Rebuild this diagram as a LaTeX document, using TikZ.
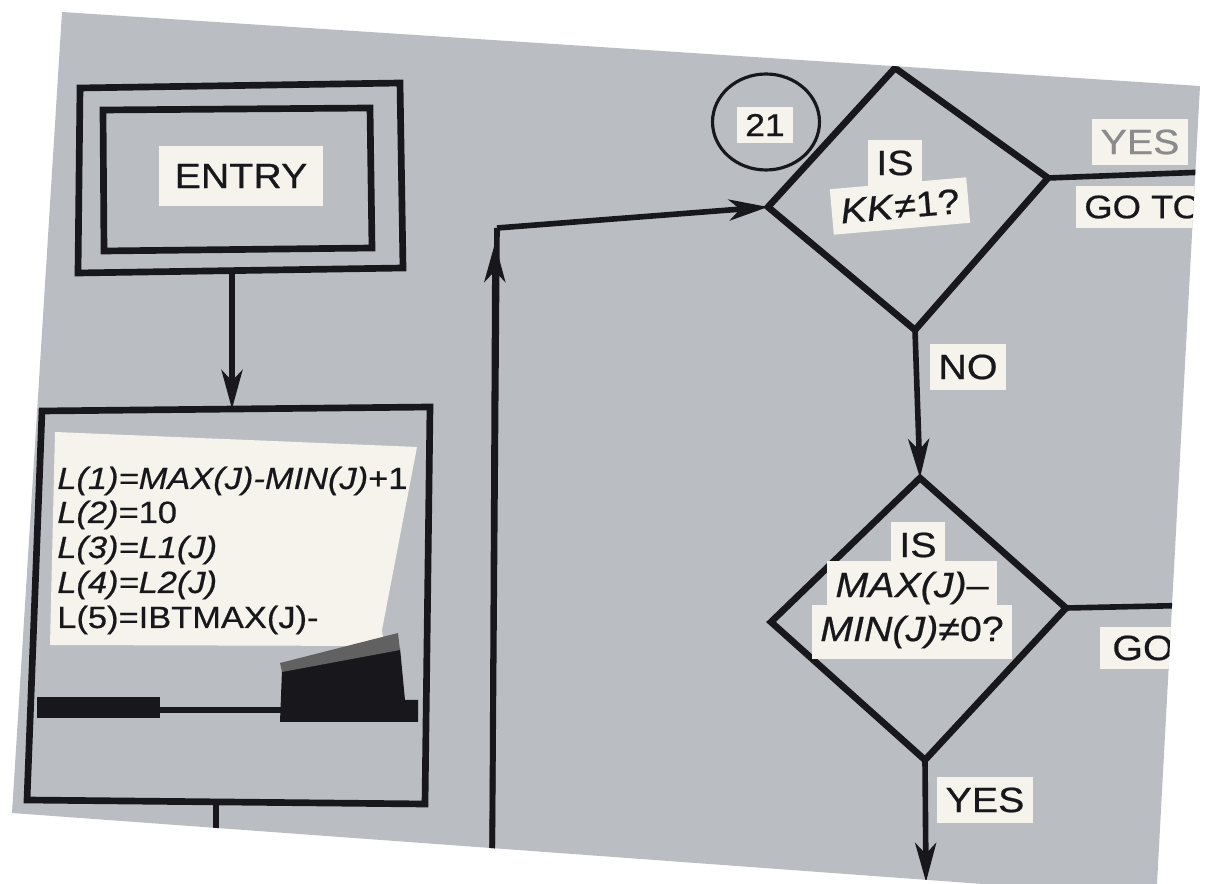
\documentclass[tikz,border=0pt]{standalone}
\usepackage{fontspec}
\setmainfont{Liberation Sans}[FakeStretch=1.12,FakeBold=0.6]
\usetikzlibrary{arrows.meta,shapes.geometric}
\definecolor{paper}{RGB}{186,190,195}
\definecolor{ink}{RGB}{24,24,28}
\definecolor{tag}{RGB}{245,243,235}
\begin{document}
\begin{tikzpicture}[x=0.02cm,y=-0.02cm,
  ln/.style={draw=ink,line width=3.8pt,line join=miter},
  conn/.style={draw=ink,line width=3.2pt},
  tip/.style={-{Stealth[length=0.78cm,width=0.42cm,inset=0.22cm]}},
  tagbox/.style={fill=tag,text=ink,inner xsep=5pt,inner ysep=6pt,font=\fontsize{20}{22}\selectfont},
  proctext/.style={anchor=base west,inner sep=0pt,text=ink,font=\fontsize{17.5}{19}\selectfont}]
\useasboundingbox (0,0) rectangle (1207,884);
\fill[white] (0,0) rectangle (1207,884);
\coordinate (p1) at (62,12);
\coordinate (p2) at (1200,86);
\coordinate (p3) at (1157,884);
\coordinate (p4) at (983,884);
\coordinate (p5) at (12,813);
\fill[paper] (p1)--(p2)--(p3)--(p4)--(p5)--cycle;
\begin{scope}
\clip (p1)--(p2)--(p3)--(p4)--(p5)--cycle;
% entry box
\draw[ln] (80,88) -- (400,83) -- (403,268) -- (78,273) -- cycle;
\draw[ln] (103,110) -- (370,108) -- (372,248) -- (104,251) -- cycle;
\node[tagbox,inner xsep=9pt,inner ysep=10pt] (entry) at (241,176) {ENTRY};
\coordinate (entryB) at (232,271);
\coordinate (procT) at (232,409);
\draw[conn,tip] (entryB) -- (procT);
% process box
\draw[ln] (42,411) -- (430,407) -- (425,804) -- (27,800) -- cycle;
\fill[tag] (55,432) -- (417,447) -- (382,630) -- (384,646) -- (50,645) -- cycle;
\node[proctext] (pl1) at (57,489) {\textit{L(1)=MAX(J)-MIN(J)}+1};
\node[proctext] (pl2) at (57,523) {\textit{L(2)}=10};
\node[proctext] (pl3) at (57,558) {\textit{L(3)=L1(J)}};
\node[proctext] (pl4) at (57,593) {\textit{L(4)=L2(J)}};
\node[proctext] (pl5) at (57,628) {L(5)=IBTMAX(J)-};
\fill[ink] (37,697) rectangle (160,718);
\draw[ink,line width=3.2pt] (160,710) -- (283,710);
\fill[ink] (282,670) -- (400,648) -- (405,700) -- (418,700) -- (418,722) -- (280,722) -- cycle;
\fill[black!62] (280,663) -- (398,633) -- (400,650) -- (282,672) -- cycle;
\coordinate (procB) at (216,804);
\coordinate (procOut) at (216,884);
\draw[conn] (procB) -- (procOut);
% loop line
\coordinate (loopB) at (492,884);
\coordinate (loopA) at (495,243);
\coordinate (loopC) at (497,228);
\coordinate (d1L) at (768,207);
\draw[conn] (loopB) -- (loopC);
\draw[conn,tip] (loopB) -- (loopA);
\draw[conn,tip,line join=miter] (loopC) -- (d1L);
% connector circle
\node[draw=ink,line width=1.8pt,ellipse,minimum width=2.14cm,minimum height=1.92cm] (c21) at (766,122) {};
\node[tagbox,inner ysep=4pt,font=\fontsize{18}{20}\selectfont] (n21) at (765,125) {21};
% diamond 1
\coordinate (d1T) at (895,68);
\coordinate (d1R) at (1048,178);
\coordinate (d1B) at (915,330);
\draw[ln] (d1L) -- (d1T) -- (d1R) -- (d1B) -- cycle;
\node[tagbox] (is1) at (895,163) {IS};
\node[tagbox,rotate=5] (kk) at (900,206) {\textit{KK}≠1?};
% diamond 2
\coordinate (d2T) at (920,478);
\coordinate (d2R) at (1066,608);
\coordinate (d2B) at (925,760);
\coordinate (d2L) at (771,622);
\draw[ln] (d2L) -- (d2T) -- (d2R) -- (d2B) -- cycle;
\node[tagbox] (is2) at (918,545) {IS};
\node[tagbox] (max) at (912,588) {\textit{MAX(J)}–};
\node[tagbox] (min) at (912,632) {\textit{MIN(J)}≠0?};
% connectors
\coordinate (yesEnd) at (1207,172);
\coordinate (goEnd) at (1207,605);
\coordinate (outB) at (926,882);
\draw[conn,tip] (d1B) -- (d2T);
\draw[conn] (d1R) -- (yesEnd);
\draw[conn] (d2R) -- (goEnd);
\draw[conn,tip] (d2B) -- (outB);
\node[tagbox,text=ink!50] (yes1) at (1140,142) {YES};
\fill[tag] (1076,186) rectangle (1207,228);
\node[tagbox,anchor=west,fill=none,inner xsep=0pt,font=\fontsize{18.5}{20}\selectfont] (goto1) at (1084,207) {GO TO};
\node[tagbox] (no) at (968,367) {NO};
\fill[tag] (1100,627) rectangle (1207,669);
\node[tagbox,anchor=west,fill=none,inner xsep=0pt] (go2) at (1112,648) {GO};
\node[tagbox] (yes2) at (985,800) {YES};
\end{scope}
\end{tikzpicture}
\end{document}
